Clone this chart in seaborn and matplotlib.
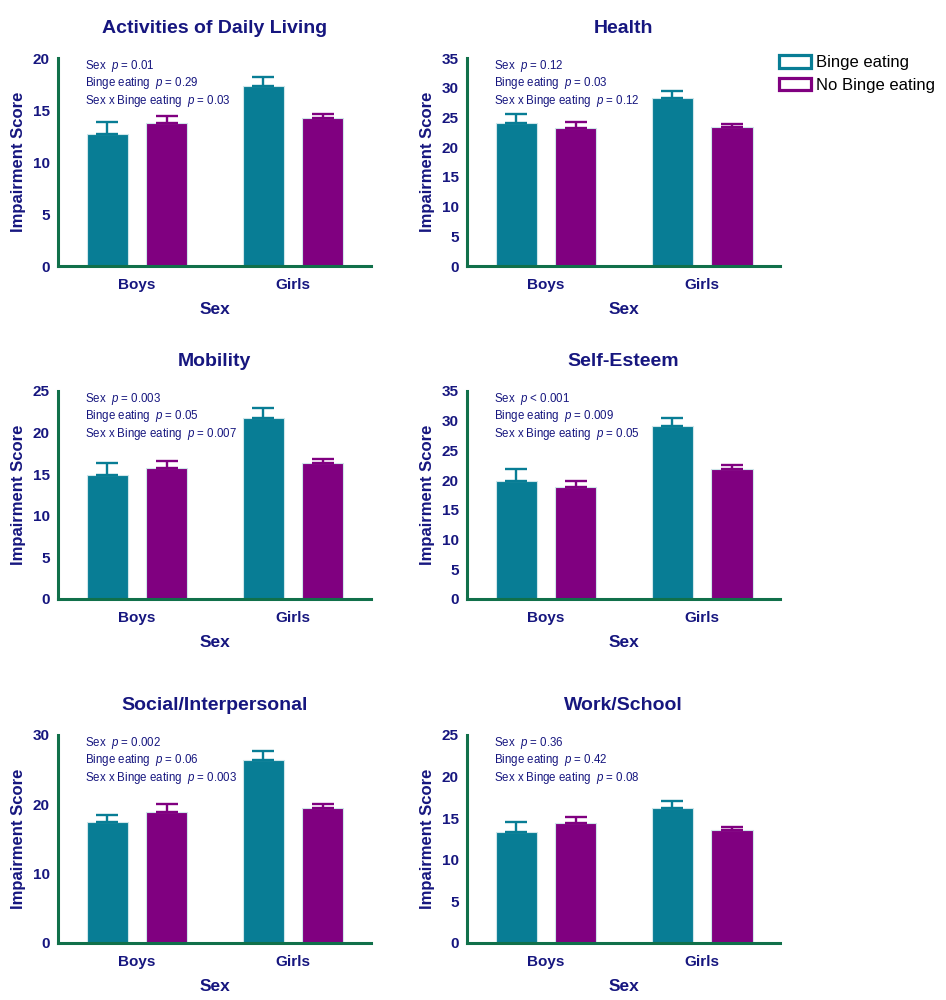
import pandas as pd
import matplotlib
matplotlib.use("Agg")
import matplotlib.pyplot as plt
import seaborn as sns
from matplotlib.patches import Patch

# Data (mean and upper error, per panel)
panels = ["Activities of Daily Living", "Health", "Mobility",
          "Self-Esteem", "Social/Interpersonal", "Work/School"]
sexes = ["Boys", "Girls"]
groups = ["Binge eating", "No Binge eating"]

binge_boys = [12.7, 24.1, 14.9, 19.8, 17.5, 13.4]
binge_girls = [17.3, 28.2, 21.8, 29.1, 26.4, 16.2]
nobinge_boys = [13.75, 23.3, 15.7, 18.8, 18.9, 14.4]
nobinge_girls = [14.2, 23.4, 16.3, 21.9, 19.5, 13.6]

binge_boys_sem = [1.15, 1.5, 1.4, 2.0, 1.0, 1.2]
binge_girls_sem = [0.9, 1.2, 1.15, 1.4, 1.35, 0.9]
nobinge_boys_sem = [0.65, 0.9, 0.9, 1.1, 1.1, 0.7]
nobinge_girls_sem = [0.4, 0.45, 0.5, 0.6, 0.55, 0.4]

ymax = [20, 35, 25, 35, 30, 25]
ystep = [5, 5, 5, 5, 10, 5]

sex_p = ["= 0.01", "= 0.12", "= 0.003", "< 0.001", "= 0.002", "= 0.36"]
binge_p = ["= 0.29", "= 0.03", "= 0.05", "= 0.009", "= 0.06", "= 0.42"]
inter_p = ["= 0.03", "= 0.12", "= 0.007", "= 0.05", "= 0.003", "= 0.08"]

# Styling
TEAL = "#087d95"
PURPLE = "#800080"
NAVY = "#16167f"
GREEN = "#11704a"

sns.set_style("white")
plt.rcParams["font.family"] = ["Liberation Sans", "DejaVu Sans"]
plt.rcParams["mathtext.fontset"] = "custom"
plt.rcParams["mathtext.rm"] = "Liberation Sans"
plt.rcParams["mathtext.it"] = "Liberation Sans:italic"

fig = plt.figure(figsize=(9.46, 10), dpi=100)

lefts = [0.0613, 0.4937]
bottoms = [0.734, 0.401, 0.057]
W, H = 0.331, 0.208

for i, name in enumerate(panels):
    ax = fig.add_axes([lefts[i % 2], bottoms[i // 2], W, H])

    df = pd.DataFrame({
        "sex": sexes * 2,
        "group": [groups[0]] * 2 + [groups[1]] * 2,
        "score": [binge_boys[i], binge_girls[i], nobinge_boys[i], nobinge_girls[i]],
        "sem": [binge_boys_sem[i], binge_girls_sem[i], nobinge_boys_sem[i], nobinge_girls_sem[i]],
    })

    sns.barplot(data=df, x="sex", y="score", hue="group", order=sexes,
                hue_order=groups, palette=[TEAL, PURPLE], saturation=1,
                errorbar=None, width=0.76, gap=0.3, edgecolor="#cfe6ea",
                linewidth=0.8, legend=False, ax=ax)

    # upper-only error bars
    bar_conts = list(ax.containers)
    for g, cont in enumerate(bar_conts):
        col = TEAL if g == 0 else PURPLE
        sub = df[df["group"] == groups[g]]
        for bar, err in zip(cont, sub["sem"]):
            xc = bar.get_x() + bar.get_width() / 2
            ax.errorbar(xc, bar.get_height(), yerr=[[0], [err]], color=col,
                        elinewidth=1.7, capsize=8, capthick=1.7, zorder=3)

    ax.set_xlim(-0.506, 1.5)
    ax.set_ylim(0, ymax[i])
    ax.set_yticks(range(0, ymax[i] + 1, ystep[i]))

    for s in ["top", "right"]:
        ax.spines[s].set_visible(False)
    for s in ["left", "bottom"]:
        ax.spines[s].set_color(GREEN)
        ax.spines[s].set_linewidth(2.2)
    ax.tick_params(axis="both", colors=GREEN, width=2.2, length=5,
                   direction="out", labelcolor=NAVY, labelsize=11)
    ax.tick_params(axis="y", pad=1)
    for lab in ax.get_xticklabels() + ax.get_yticklabels():
        lab.set_fontweight("bold")

    ax.set_title(name, fontsize=14, fontweight="bold", color=NAVY, pad=18)
    ax.set_xlabel("Sex", fontsize=12.5, fontweight="bold", color=NAVY, labelpad=7)
    ax.set_ylabel("Impairment Score", fontsize=12, fontweight="bold",
                  color=NAVY, labelpad=5)

    lines = [
        f"Sex  $p$ {sex_p[i]}",
        f"Binge eating  $p$ {binge_p[i]}",
        f"Sex x Binge eating  $p$ {inter_p[i]}",
    ]
    for txt, yy in zip(lines, [0.962, 0.878, 0.793]):
        ax.text(0.086, yy, txt, transform=ax.transAxes, va="center", ha="left",
                fontsize=8.3, color=NAVY)

handles = [Patch(facecolor="white", edgecolor=TEAL, linewidth=2.3, label=groups[0]),
           Patch(facecolor="white", edgecolor=PURPLE, linewidth=2.3, label=groups[1])]
fig.legend(handles=handles, loc="upper left", bbox_to_anchor=(0.823, 0.945),
           frameon=False, fontsize=12, handlelength=1.95, handleheight=0.8,
           handletextpad=0.3, labelspacing=0.45, borderpad=0, borderaxespad=0,
           labelcolor="black")

fig.savefig("out.png", dpi=100)
plt.close(fig)
